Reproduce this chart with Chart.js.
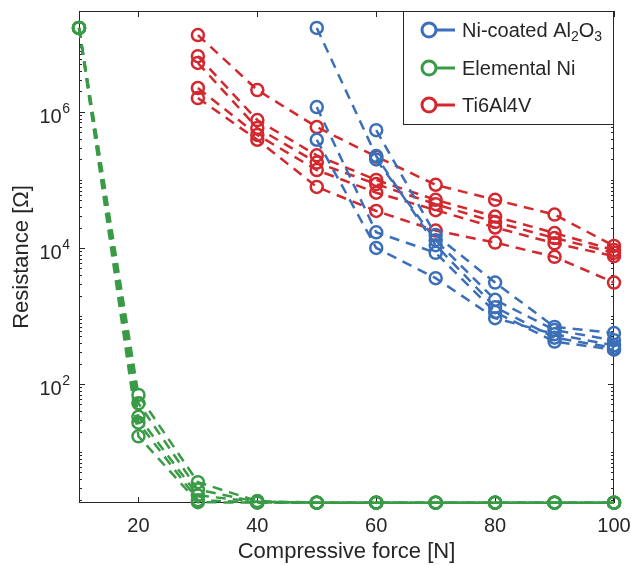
<!DOCTYPE html>
<html>
<head>
<meta charset="utf-8">
<script src="https://cdn.jsdelivr.net/npm/chart.js@4.4.1/dist/chart.umd.min.js"></script>
<style>
  html, body { margin: 0; padding: 0; background: #fff; }
  #wrap { width: 633px; height: 565px; position: relative; }
</style>
</head>
<body>
<div id="wrap"><canvas id="resChart" width="633" height="565"></canvas></div>
<script>
// compressive force [N]
var forces = [10, 20, 30, 40, 50, 60, 70, 80, 90, 100];

// Ni-coated Al2O3 runs (resistance in ohm)
var niCoated1 = [null, null, null, null, 1.72e7, 2.25e5, 1.1e4, 1.35e3, 480, 340];
var niCoated2 = [null, null, null, null, 1.18e6, 1.7e4, 8.5e3, 1.14e3, 420, 320];
var niCoated3 = [null, null, null, null, 3.9e5, 1.0e4, 3.6e3, 930, 540, 370];
var niCoated4 = [null, null, null, null, null, 5.4e5, 1.55e4, 3.1e3, 690, 560];
var niCoated5 = [null, null, null, null, null, 2.0e5, 1.3e4, 1.73e3, 620, 440];

// Elemental Ni runs
var elemNi1 = [1.72e7, 69, 3.6, 1.9, 1.8, 1.8, 1.8, 1.8, 1.8, 1.8];
var elemNi2 = [1.72e7, 52, 2.8, 1.85, 1.8, 1.8, 1.8, 1.8, 1.8, 1.8];
var elemNi3 = [1.72e7, 33, 2.3, 1.85, 1.8, 1.8, 1.8, 1.8, 1.8, 1.8];
var elemNi4 = [1.72e7, 27, 1.96, 1.82, 1.8, 1.8, 1.8, 1.8, 1.8, 1.8];
var elemNi5 = [1.72e7, 17, 1.83, 1.8, 1.8, 1.8, 1.8, 1.8, 1.8, 1.8];

// Ti6Al4V runs
var ti1 = [null, null, 1.35e7, 2.1e6, 6.0e5, 2.2e5, 8.5e4, 5.1e4, 3.1e4, 1.07e4];
var ti2 = [null, null, 6.6e6, 7.6e5, 2.3e5, 1.0e5, 5.1e4, 2.9e4, 1.66e4, 9.3e3];
var ti3 = [null, null, 5.25e6, 5.8e5, 1.8e5, 8.7e4, 4.4e4, 2.4e4, 1.4e4, 8.5e3];
var ti4 = [null, null, 2.25e6, 4.6e5, 1.4e5, 6.5e4, 3.6e4, 2.0e4, 1.17e4, 7.6e3];
var ti5 = [null, null, 1.6e6, 3.9e5, 7.9e4, 3.5e4, 1.8e4, 1.2e4, 7.4e3, 3.1e3];

var xTicks = [20, 40, 60, 80, 100];
var yTickExps = [2, 4, 6];
var legendNames = ['Ni-coated Al2O3', 'Elemental Ni', 'Ti6Al4V'];

var blue = '#3b6fb8';
var green = '#3a9b47';
var red = '#d2282e';
var FONT = "'Liberation Sans', Arial, sans-serif";

function makeSet(vals, color, order) {
    var pts = [];
    vals.forEach(function(v, i) {
        if (v !== null) pts.push({ x: forces[i], y: v });
    });
    return {
        data: pts,
        borderColor: color,
        backgroundColor: 'rgba(0,0,0,0)',
        borderWidth: 2.5,
        borderDash: [10, 7],
        pointRadius: 6,
        pointBorderWidth: 2.5,
        pointBorderColor: color,
        pointBackgroundColor: 'rgba(0,0,0,0)',
        pointStyle: 'circle',
        tension: 0,
        clip: false,
        order: order
    };
}

var datasets = [];
[niCoated1, niCoated2, niCoated3, niCoated4, niCoated5].forEach(function(s) { datasets.push(makeSet(s, blue, 0)); });
[elemNi1, elemNi2, elemNi3, elemNi4, elemNi5].forEach(function(s) { datasets.push(makeSet(s, green, 1)); });
[ti1, ti2, ti3, ti4, ti5].forEach(function(s) { datasets.push(makeSet(s, red, 2)); });

// MATLAB-style box, inward ticks, labels and legend
var axesDecor = {
    id: 'axesDecor',
    beforeDatasetsDraw: function(chart) {
        var ctx = chart.ctx;
        var a = chart.chartArea;
        var xs = chart.scales.x, ys = chart.scales.y;
        ctx.save();
        ctx.strokeStyle = '#262626';
        ctx.lineWidth = 1;
        ctx.strokeRect(a.left + 0.5, a.top + 0.5, a.right - a.left - 1, a.bottom - a.top - 1);

        // x ticks (bottom and top)
        ctx.beginPath();
        xTicks.forEach(function(t) {
            var px = Math.round(xs.getPixelForValue(t)) + 0.5;
            ctx.moveTo(px, a.bottom); ctx.lineTo(px, a.bottom - 6);
            ctx.moveTo(px, a.top); ctx.lineTo(px, a.top + 6);
        });
        // y ticks (left and right), log minor ticks
        for (var k = 0; k <= 8; k++) {
            for (var m = 1; m <= 9; m++) {
                var v = m * Math.pow(10, k);
                if (v < ys.min || v > ys.max) continue;
                var len = (m === 1 && yTickExps.indexOf(k) >= 0) ? 6 : 3;
                var py = Math.round(ys.getPixelForValue(v)) + 0.5;
                ctx.moveTo(a.left, py); ctx.lineTo(a.left + len, py);
                ctx.moveTo(a.right, py); ctx.lineTo(a.right - len, py);
            }
        }
        ctx.stroke();

        ctx.fillStyle = '#262626';
        // x tick labels
        ctx.font = '20px ' + FONT;
        ctx.textAlign = 'center';
        ctx.textBaseline = 'alphabetic';
        xTicks.forEach(function(t) {
            ctx.fillText(String(t), xs.getPixelForValue(t), 532);
        });
        // y tick labels 10^n
        yTickExps.forEach(function(e) {
            var py = ys.getPixelForValue(Math.pow(10, e));
            ctx.font = '14px ' + FONT;
            ctx.textAlign = 'right';
            var ew = ctx.measureText(String(e)).width;
            ctx.fillText(String(e), 70, py + 1);
            ctx.font = '20px ' + FONT;
            ctx.fillText('10', 70 - ew - 0.5, py + 11);
        });
        // axis titles
        ctx.font = '22px ' + FONT;
        ctx.textAlign = 'center';
        ctx.fillText('Compressive force [N]', (a.left + a.right) / 2, 558);
        ctx.save();
        ctx.translate(28, (a.top + a.bottom) / 2);
        ctx.rotate(-Math.PI / 2);
        ctx.fillText('Resistance [\u03A9]', 0, 0);
        ctx.restore();
        ctx.restore();
    },
    afterDatasetsDraw: function(chart) {
        var ctx = chart.ctx;
        var a = chart.chartArea;
        ctx.save();
        // legend
        var lx = 403, ly = a.top, lw = a.right - lx, lh = 114;
        ctx.fillStyle = '#fff';
        ctx.fillRect(lx, ly, lw, lh);
        ctx.strokeStyle = '#262626';
        ctx.lineWidth = 1;
        ctx.strokeRect(lx + 0.5, ly + 0.5, lw - 1, lh - 1);
        var colors = [blue, green, red];
        var rows = [30, 68, 105];
        rows.forEach(function(ry, i) {
            ctx.strokeStyle = colors[i];
            ctx.lineWidth = 3;
            ctx.beginPath();
            ctx.moveTo(436, ry); ctx.lineTo(455, ry);
            ctx.stroke();
            ctx.beginPath();
            ctx.arc(429, ry, 7, 0, Math.PI * 2);
            ctx.stroke();
            ctx.fillStyle = '#262626';
            ctx.textAlign = 'left';
            ctx.textBaseline = 'alphabetic';
            var tx = 462, by = ry + 7;
            if (i === 0) {
                var parts = [['Ni-coated Al', 0], ['2', 1], ['O', 0], ['3', 1]];
                parts.forEach(function(p) {
                    ctx.font = (p[1] ? '14px ' : '20px ') + FONT;
                    ctx.fillText(p[0], tx, by + (p[1] ? 4 : 0));
                    tx += ctx.measureText(p[0]).width;
                });
            } else {
                ctx.font = '20px ' + FONT;
                ctx.fillText(legendNames[i], tx, by);
            }
        });
        ctx.restore();
    }
};

var ctx = document.getElementById('resChart').getContext('2d');
var chart = new Chart(ctx, {
    type: 'line',
    data: { datasets: datasets },
    options: {
        responsive: false,
        animation: false,
        layout: { padding: { top: 11, right: 19, left: 0, bottom: 0 } },
        plugins: { legend: { display: false }, tooltip: { enabled: false } },
        scales: {
            x: {
                type: 'linear',
                min: 10,
                max: 100,
                grid: { display: false, drawTicks: false },
                border: { display: false },
                ticks: { display: false },
                afterFit: function(scale) { scale.height = 62; }
            },
            y: {
                type: 'logarithmic',
                min: 1.78,
                max: 3.05e7,
                grid: { display: false, drawTicks: false },
                border: { display: false },
                ticks: { display: false },
                afterFit: function(scale) { scale.width = 79; }
            }
        }
    },
    plugins: [axesDecor]
});
</script>
</body>
</html>
